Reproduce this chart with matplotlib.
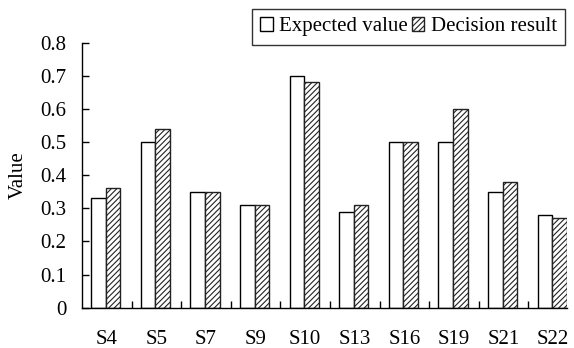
import matplotlib
matplotlib.use("Agg")
import matplotlib.pyplot as plt
import numpy as np

categories = ["S4", "S5", "S7", "S9", "S10", "S13", "S16", "S19", "S21", "S22"]
expected_value = [0.33, 0.50, 0.35, 0.31, 0.70, 0.29, 0.50, 0.50, 0.35, 0.28]
decision_result = [0.36, 0.54, 0.35, 0.31, 0.68, 0.31, 0.50, 0.60, 0.38, 0.27]
y_ticks = [0, 0.1, 0.2, 0.3, 0.4, 0.5, 0.6, 0.7, 0.8]
y_tick_labels = ["0", "0.1", "0.2", "0.3", "0.4", "0.5", "0.6", "0.7", "0.8"]

plt.rcParams["font.family"] = ["Liberation Serif", "DejaVu Serif"]
plt.rcParams["hatch.linewidth"] = 0.8

fs = 15

fig = plt.figure(figsize=(5.74, 3.48), dpi=100)
ax = fig.add_axes([0.1429, 0.1158, 0.8446, 0.7615])

x = np.arange(len(categories))
w = 0.294
shift = -0.02
ax.bar(x + shift - w / 2, expected_value, width=w, facecolor="white",
       edgecolor="black", linewidth=1.0, label="Expected value")
ax.bar(x + shift + w / 2, decision_result, width=w, facecolor="white",
       edgecolor="#222222", linewidth=1.0, hatch="//////", label="Decision result")

ax.set_xlim(-0.5, len(categories) - 1 + shift + w)
ax.set_ylim(0, 0.8)

for s in ("top", "right"):
    ax.spines[s].set_visible(False)
for s in ("left", "bottom"):
    ax.spines[s].set_linewidth(1.0)

ax.set_yticks(y_ticks)
ax.set_yticklabels(y_tick_labels)
ax.tick_params(axis="y", direction="in", length=5, width=1.0, pad=11, labelsize=fs)

ax.set_xticks(x)
ax.set_xticklabels(categories)
ax.set_xticks(np.arange(len(categories) - 1) + 0.5, minor=True)
ax.tick_params(axis="x", which="major", length=0, pad=16, labelsize=fs)
ax.tick_params(axis="x", which="minor", direction="in", length=5, width=1.0)

ax.set_ylabel("Value", fontsize=fs, labelpad=9)

leg = fig.legend(loc="upper right", bbox_to_anchor=(565 / 574, 1 - 9 / 348),
                 ncol=2, fontsize=fs, frameon=True, fancybox=False,
                 edgecolor="black", handlelength=0.6, handleheight=0.6,
                 handletextpad=0.3, columnspacing=0.2, borderpad=0.4,
                 borderaxespad=0)
leg.get_frame().set_linewidth(1.0)

fig.savefig("out.png", dpi=100)
